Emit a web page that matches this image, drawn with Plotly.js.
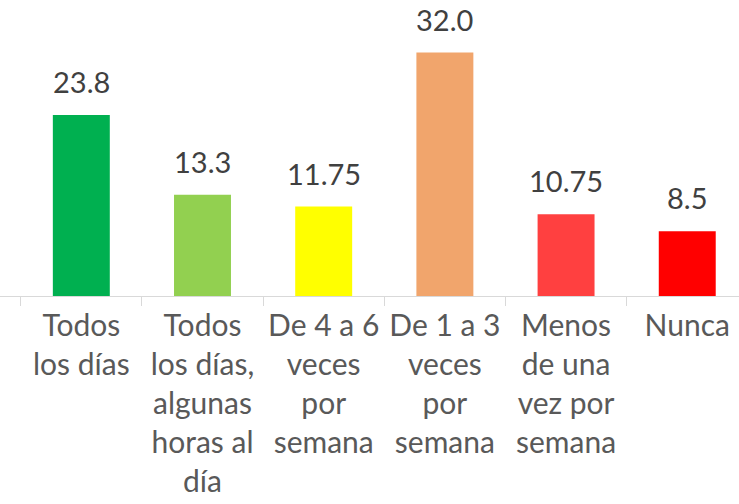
<!DOCTYPE html>
<html>
<head>
<meta charset="utf-8">
<script src="https://cdn.plot.ly/plotly-3.0.1.min.js"></script>
<style>html,body{margin:0;padding:0;background:#fff;}#chart{width:739px;height:504px;}</style>
</head>
<body>
<div id="chart"></div>
<script>
const categories = [
  "Todos<br>los días",
  "Todos<br>los días,<br>algunas<br>horas al<br>día",
  "De 4 a 6<br>veces<br>por<br>semana",
  "De 1 a 3<br>veces<br>por<br>semana",
  "Menos<br>de una<br>vez por<br>semana",
  "Nunca"
];
const values = [23.8, 13.3, 11.75, 32.0, 10.75, 8.5];
const valueLabels = ["23.8", "13.3", "11.75", "32.0", "10.75", "8.5"];
const barColors = ["#00B050", "#92D050", "#FFFF00", "#F1A56C", "#FF4040", "#FF0000"];

const trace = {
  type: "bar",
  x: categories,
  y: values,
  marker: {color: barColors},
  width: 0.47,
  hoverinfo: "none"
};

const annotations = categories.map((c, i) => ({
  x: c, y: values[i], xref: "x", yref: "y",
  text: valueLabels[i], showarrow: false,
  yanchor: "bottom", yshift: 14,
  font: {family: "Lato", size: 29, color: "#404040"}
}));

const layout = {
  width: 739, height: 504,
  margin: {l: 0, r: 0, t: 0, b: 208},
  paper_bgcolor: "#fff", plot_bgcolor: "#fff",
  showlegend: false,
  bargap: 0.53,
  xaxis: {
    type: "category",
    range: [-0.671, 5.427],
    showline: true, linecolor: "#D9D9D9", linewidth: 1,
    ticks: "outside", tickson: "boundaries", ticklen: 9, tickcolor: "#D9D9D9", tickwidth: 1,
    tickfont: {family: "Lato", size: 30, color: "#595959"},
    ticklabelstandoff: 3,
    tickangle: 0,
    showgrid: false, zeroline: false, fixedrange: true
  },
  yaxis: {
    range: [0, 38.9],
    visible: false, showgrid: false, zeroline: false, fixedrange: true
  },
  annotations: annotations
};

Plotly.newPlot("chart", [trace], layout, {displayModeBar: false, staticPlot: true});
</script>
</body>
</html>
